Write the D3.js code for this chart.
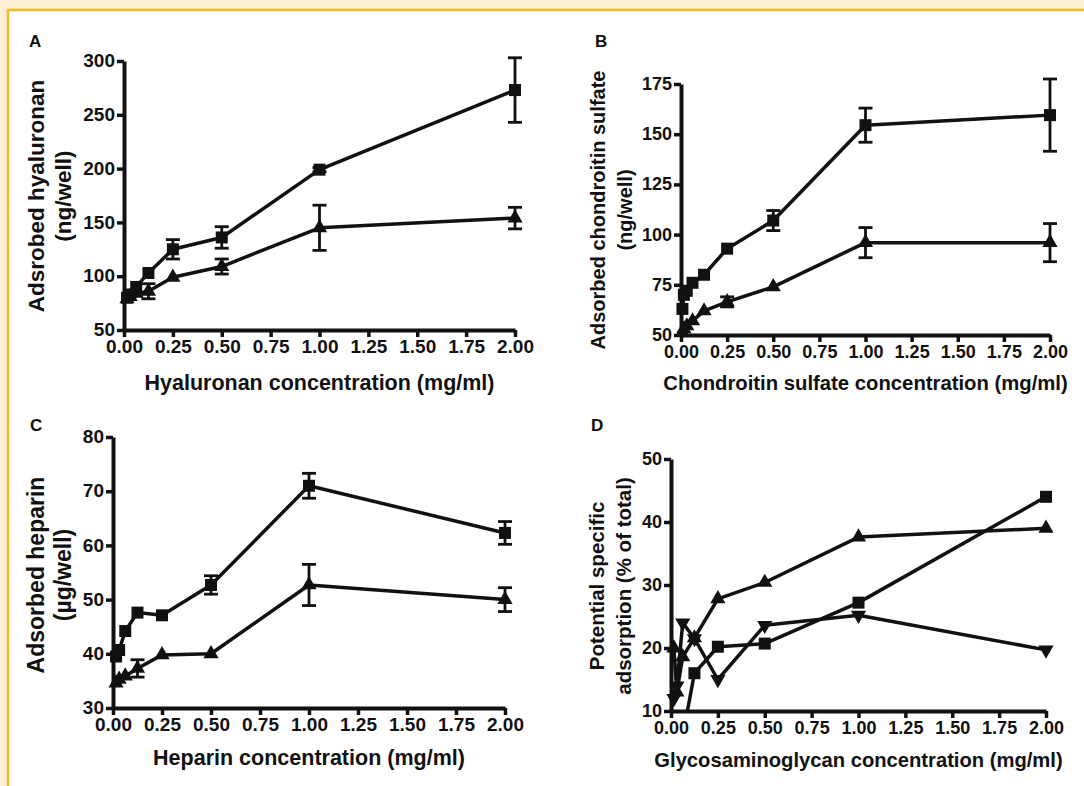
<!DOCTYPE html>
<html>
<head>
<meta charset="utf-8">
<script src="https://cdn.jsdelivr.net/npm/d3@7"></script>
<style>
  body { margin: 0; background: #fcefd4; }
  text { font-family: "Liberation Sans", Arial, sans-serif; font-weight: bold; fill: #111; }
</style>
</head>
<body>
<script>
// doses (mg/ml), two-fold dilution series
var doses = [0.0156, 0.03125, 0.0625, 0.125, 0.25, 0.5, 1, 2];
var xTicks = [0, 0.25, 0.5, 0.75, 1, 1.25, 1.5, 1.75, 2];

// panel A - hyaluronan
var haSquare = [80, 83, 90, 103, 125, 136, 199, 273];
var haSquareErr = [0, 0, 0, 0, 9, 10, 2, 30];
var haTriangle = [79, 81, 84, 86, 99, 109, 145, 154];
var haTriangleErr = [0, 0, 0, 7, 0, 7, 21, 10];
var haTicks = [50, 100, 150, 200, 250, 300];

// panel B - chondroitin sulfate
var csDoses = [0.0078, 0.0156, 0.03125, 0.0625, 0.125, 0.25, 0.5, 1, 2];
var csSquare = [63, 70, 72, 76, 80, 93, 107, 154.5, 159.5];
var csSquareErr = [0, 0, 0, 0, 0, 0, 5, 8.5, 18];
var csTriangle = [51, 53, 54.5, 57, 62, 66.5, 74, 96, 96];
var csTriangleErr = [0, 0, 0, 0, 0, 2.5, 0, 7.5, 9.5];
var csTicks = [50, 75, 100, 125, 150, 175];

// panel C - heparin
var hpSquare = [39.5, 40.7, 44.2, 47.6, 47.1, 52.7, 71, 62.3];
var hpSquareErr = [0, 0, 0, 0, 0, 1.7, 2.3, 2.1];
var hpTriangle = [34.6, 35.3, 35.9, 37.3, 39.8, 40, 52.7, 50];
var hpTriangleErr = [0, 0, 0, 1.6, 0, 0, 3.8, 2.2];
var hpTicks = [30, 40, 50, 60, 70, 80];

// panel D - potential specific adsorption (% of total)
var psSquare = [null, null, 6, 16, 20.2, 20.7, 27.2, 44];
var psTriangle = [20, 13, 18.6, 21.6, 27.8, 30.4, 37.6, 39];
var psDownTriangle = [12, 14, 24, 21.5, 15, 23.6, 25.2, 19.7];
var psTicks = [10, 20, 30, 40, 50];

var width = 1084, height = 786;

var svg = d3.select("body").append("svg")
    .attr("width", width)
    .attr("height", height);

svg.append("rect")
    .attr("x", 8).attr("y", 10)
    .attr("width", width).attr("height", height)
    .attr("fill", "#fff")
    .attr("stroke", "#f3bb22")
    .attr("stroke-width", 2.5);

function toPoints(xs, ys, errs) {
    var pts = [];
    xs.forEach(function(x, i) {
        if (ys[i] == null) return;
        pts.push({x: x, y: ys[i], e: errs ? errs[i] : 0});
    });
    return pts;
}

var fmt = d3.format(".2f");

function drawPanel(p) {
    var x = d3.scaleLinear().domain([0, 2]).range([p.x0, p.x1]);
    var y = d3.scaleLinear().domain(p.yDomain).range([p.y0, p.y1]);
    var g = svg.append("g");

    // clip at the axes like the original
    var clipId = "clip" + p.label;
    svg.append("clipPath").attr("id", clipId)
      .append("rect")
        .attr("x", p.x0 - 10).attr("y", p.y1 - 30)
        .attr("width", p.x1 - p.x0 + 30).attr("height", p.y0 - p.y1 + 30);

    var plot = g.append("g").attr("clip-path", "url(#" + clipId + ")");

    var line = d3.line().x(function(d){ return x(d.x); }).y(function(d){ return y(d.y); });

    p.series.forEach(function(s) {
        var pts = toPoints(s.xs, s.ys, s.errs);
        plot.append("path")
            .datum(pts)
            .attr("fill", "none")
            .attr("stroke", "#111")
            .attr("stroke-width", 3.5)
            .attr("stroke-linejoin", "round")
            .attr("d", line);

        var eb = plot.selectAll(null).data(pts.filter(function(d){ return d.e > 0; })).enter().append("g");
        eb.append("line")
            .attr("x1", function(d){ return x(d.x); }).attr("x2", function(d){ return x(d.x); })
            .attr("y1", function(d){ return y(d.y - d.e); }).attr("y2", function(d){ return y(d.y + d.e); })
            .attr("stroke", "#111").attr("stroke-width", 2.8);
        [-1, 1].forEach(function(sg) {
            eb.append("line")
                .attr("x1", function(d){ return x(d.x) - 7; }).attr("x2", function(d){ return x(d.x) + 7; })
                .attr("y1", function(d){ return y(d.y + sg * d.e); }).attr("y2", function(d){ return y(d.y + sg * d.e); })
                .attr("stroke", "#111").attr("stroke-width", 2.8);
        });

        var sym = d3.symbol().type(s.shape === "square" ? d3.symbolSquare : d3.symbolTriangle)
            .size(s.shape === "square" ? 144 : 100);
        plot.selectAll(null).data(pts).enter().append("path")
            .attr("d", sym)
            .attr("fill", "#111")
            .attr("transform", function(d) {
                return "translate(" + x(d.x) + "," + y(d.y) + ")" + (s.shape === "down" ? " rotate(180)" : "");
            });
    });

    // axes
    var ax = g.append("g").attr("transform", "translate(0," + p.y0 + ")")
        .call(d3.axisBottom(x).tickValues(xTicks).tickFormat(fmt).tickSize(7).tickSizeOuter(0).tickPadding(3));
    var ay = g.append("g").attr("transform", "translate(" + p.x0 + ",0)")
        .call(d3.axisLeft(y).tickValues(p.yTicks).tickFormat(d3.format("d")).tickSize(7).tickSizeOuter(0).tickPadding(2));
    [ax, ay].forEach(function(a) {
        a.select(".domain").attr("stroke", "#111").attr("stroke-width", 4);
        a.selectAll(".tick line").attr("stroke", "#111").attr("stroke-width", 3.5);
        a.selectAll(".tick text").style("font-size", p.tickFont + "px").attr("fill", "#111");
    });
    ay.selectAll(".tick text").attr("dy", "0.3em");

    g.append("text")
        .attr("x", p.letter[0]).attr("y", p.letter[1])
        .style("font-size", "17px")
        .text(p.label);

    g.append("text")
        .attr("x", (p.x0 + p.x1) / 2).attr("y", p.xTitleY)
        .attr("text-anchor", "middle")
        .style("font-size", p.xTitleFont + "px")
        .text(p.xTitle);

    p.yTitle.forEach(function(t, i) {
        g.append("text")
            .attr("transform", "translate(" + (p.yTitleX + i * 27) + "," + p.yTitleY + ") rotate(-90)")
            .attr("text-anchor", "middle")
            .style("font-size", p.yTitleFont + "px")
            .text(t);
    });
}

drawPanel({
    label: "A", letter: [29, 47],
    x0: 124, x1: 515, y0: 330, y1: 61, yDomain: [50, 300], yTicks: haTicks,
    tickFont: 19, xTitleFont: 21.5, yTitleFont: 22.5,
    xTitle: "Hyaluronan concentration (mg/ml)", xTitleY: 390,
    yTitle: ["Adsrobed hyaluronan", "(ng/well)"], yTitleX: 44, yTitleY: 196,
    series: [
        {xs: doses, ys: haSquare, errs: haSquareErr, shape: "square"},
        {xs: doses, ys: haTriangle, errs: haTriangleErr, shape: "up"}
    ]
});

drawPanel({
    label: "B", letter: [595, 47],
    x0: 681, x1: 1050, y0: 335, y1: 84, yDomain: [50, 175], yTicks: csTicks,
    tickFont: 18, xTitleFont: 20.3, yTitleFont: 20,
    xTitle: "Chondroitin sulfate concentration (mg/ml)", xTitleY: 390,
    yTitle: ["Adsorbed chondroitin sulfate", "(ng/well)"], yTitleX: 605, yTitleY: 210,
    series: [
        {xs: csDoses, ys: csSquare, errs: csSquareErr, shape: "square"},
        {xs: csDoses, ys: csTriangle, errs: csTriangleErr, shape: "up"}
    ]
});

drawPanel({
    label: "C", letter: [30, 431],
    x0: 113, x1: 505, y0: 708, y1: 437, yDomain: [30, 80], yTicks: hpTicks,
    tickFont: 19, xTitleFont: 21.5, yTitleFont: 23,
    xTitle: "Heparin concentration (mg/ml)", xTitleY: 765,
    yTitle: ["Adsorbed heparin", "(µg/well)"], yTitleX: 44, yTitleY: 575,
    series: [
        {xs: doses, ys: hpSquare, errs: hpSquareErr, shape: "square"},
        {xs: doses, ys: hpTriangle, errs: hpTriangleErr, shape: "up"}
    ]
});

drawPanel({
    label: "D", letter: [591, 431],
    x0: 671, x1: 1046, y0: 711, y1: 459, yDomain: [10, 50], yTicks: psTicks,
    tickFont: 18, xTitleFont: 20.2, yTitleFont: 20.5,
    xTitle: "Glycosaminoglycan concentration (mg/ml)", xTitleY: 767,
    yTitle: ["Potential specific", "adsorption (% of total)"], yTitleX: 604, yTitleY: 586,
    series: [
        {xs: doses, ys: psSquare, shape: "square"},
        {xs: doses, ys: psTriangle, shape: "up"},
        {xs: doses, ys: psDownTriangle, shape: "down"}
    ]
});
</script>
</body>
</html>
